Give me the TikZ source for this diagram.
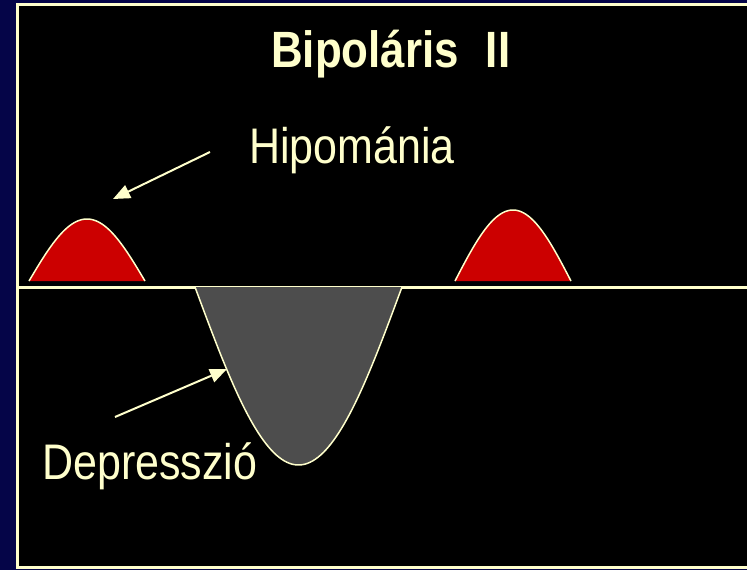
\documentclass[tikz,border=0pt]{standalone}
\usepackage{fontspec}
\newfontfamily\nfont[FakeStretch=0.86]{Liberation Sans}
\usetikzlibrary{arrows.meta}
\definecolor{navy}{RGB}{5,5,72}
\definecolor{cream}{RGB}{255,255,204}
\definecolor{bumpred}{RGB}{204,0,0}
\definecolor{troughgray}{RGB}{77,77,77}
\tikzset{
  lbl/.style={inner sep=0pt, anchor=base west, text=cream, font=\nfont\fontsize{50}{56}\selectfont},
  ttl/.style={lbl, font=\nfont\bfseries\fontsize{51}{58}\selectfont},
  pointer/.style={draw=cream, line width=2pt, -{Triangle[length=17pt,width=14pt]}},
  curveline/.style={draw=cream, line width=1.5pt}
}
\begin{document}
\begin{tikzpicture}[x=1pt,y=-1pt]
\useasboundingbox (0,0) rectangle (747,570);
\fill[navy] (0,0) rectangle (747,570);
\draw[cream, line width=3pt, fill=black] (17,4.5) rectangle (760,567.3);
% baseline
\draw[cream, line width=3.5pt] (17,287.3) -- (760,287.3);
% trough
\path[fill=troughgray] plot[domain=0:180, samples=80] ({195+1.15*\x},{287+178*sin(\x)}) -- cycle;
\draw[curveline] plot[domain=0:180, samples=80] ({195+1.15*\x},{287+178*sin(\x)});
% bumps
\path[fill=bumpred] plot[domain=0:180, samples=60] ({29+0.6444*\x},{281-62*sin(\x)}) -- cycle;
\draw[curveline] plot[domain=0:180, samples=60] ({29+0.6444*\x},{281-62*sin(\x)});
\path[fill=bumpred] plot[domain=0:180, samples=60] ({455+0.6444*\x},{281-71*sin(\x)}) -- cycle;
\draw[curveline] plot[domain=0:180, samples=60] ({455+0.6444*\x},{281-71*sin(\x)});
% texts
\node[ttl] (title) at (271,67) {Bipoláris\hspace{27pt}II};
\node[lbl] (hipo) at (249,163) {Hipománia};
\node[lbl] (depr) at (42,479) {Depresszió};
% arrows
\coordinate (h0) at (210,152);
\coordinate (h1) at (113,199);
\coordinate (d0) at (115,417);
\coordinate (d1) at (227,369);
\draw[pointer] (h0) -- (h1);
\draw[pointer] (d0) -- (d1);
\end{tikzpicture}
\end{document}
